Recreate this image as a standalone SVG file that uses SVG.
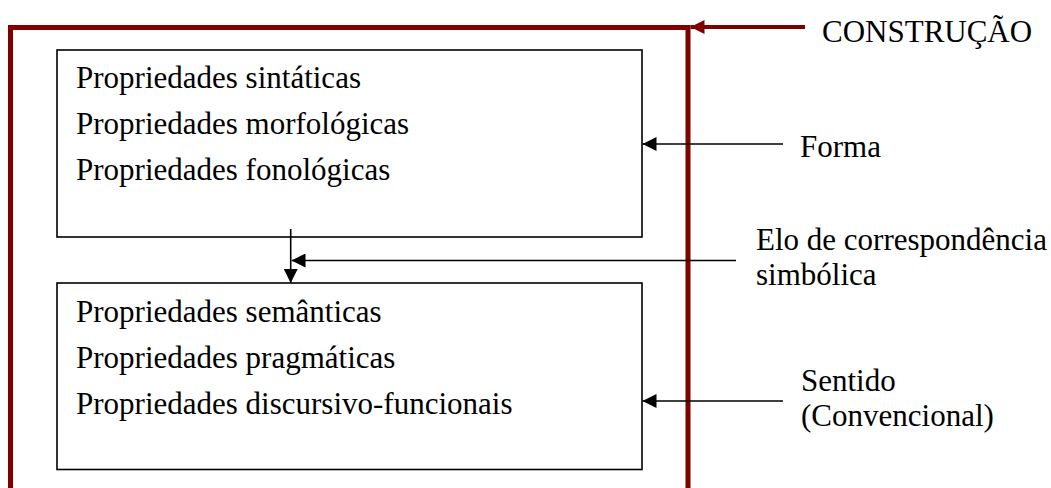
<svg xmlns="http://www.w3.org/2000/svg" width="1051" height="488" viewBox="0 0 1051 488">
<style>
text{font-family:"Liberation Serif","Times New Roman",serif;font-size:31px;fill:#000}
.box{fill:#fff;stroke:#000;stroke-width:1.6}
.frame{fill:none;stroke:#800000;stroke-width:5}
.conn{fill:none;stroke:#000;stroke-width:1.6}
.redconn{fill:none;stroke:#800000;stroke-width:4}
</style>
<defs>
<marker id="ah" viewBox="0 0 14 14" refX="14" refY="7" markerWidth="14" markerHeight="14" markerUnits="userSpaceOnUse" orient="auto"><path d="M0,0 L14,7 L0,14 z" fill="#000"/></marker>
<marker id="ahr" viewBox="0 0 14 14" refX="14" refY="7" markerWidth="14" markerHeight="14" markerUnits="userSpaceOnUse" orient="auto"><path d="M0,0 L14,7 L0,14 z" fill="#800000"/></marker>
</defs>
<rect width="1051" height="488" fill="#fff"/>
<g id="construcao">
<path class="frame" d="M10.5,492 V27.5 H688 V492"/>
<text x="822" y="42">CONSTRUÇÃO</text>
</g>
<g id="forma-box">
<rect class="box" x="57" y="50" width="585" height="187"/>
<text x="76" y="88">Propriedades sintáticas</text>
<text x="76" y="134">Propriedades morfológicas</text>
<text x="76" y="180">Propriedades fonológicas</text>
</g>
<g id="sentido-box">
<rect class="box" x="57" y="283" width="585" height="186.5"/>
<text x="76" y="322">Propriedades semânticas</text>
<text x="76" y="368">Propriedades pragmáticas</text>
<text x="76" y="414">Propriedades discursivo-funcionais</text>
</g>
<g id="forma-label"><text x="800" y="157">Forma</text></g>
<g id="elo-label"><text x="756" y="250">Elo de correspondência</text><text x="756" y="285">simbólica</text></g>
<g id="sentido-label"><text x="801" y="391">Sentido</text><text x="801" y="426">(Convencional)</text></g>
<g id="connectors">
<line class="redconn" x1="805" y1="27" x2="690.5" y2="27" marker-end="url(#ahr)"/>
<line class="conn" x1="783" y1="144" x2="642.5" y2="144" marker-end="url(#ah)"/>
<line class="conn" x1="783" y1="401" x2="642.5" y2="401" marker-end="url(#ah)"/>
<line class="conn" x1="290.7" y1="229" x2="290.7" y2="283" marker-end="url(#ah)"/>
<line class="conn" x1="736" y1="260.5" x2="291.5" y2="260.5" marker-end="url(#ah)"/>
</g>
</svg>
